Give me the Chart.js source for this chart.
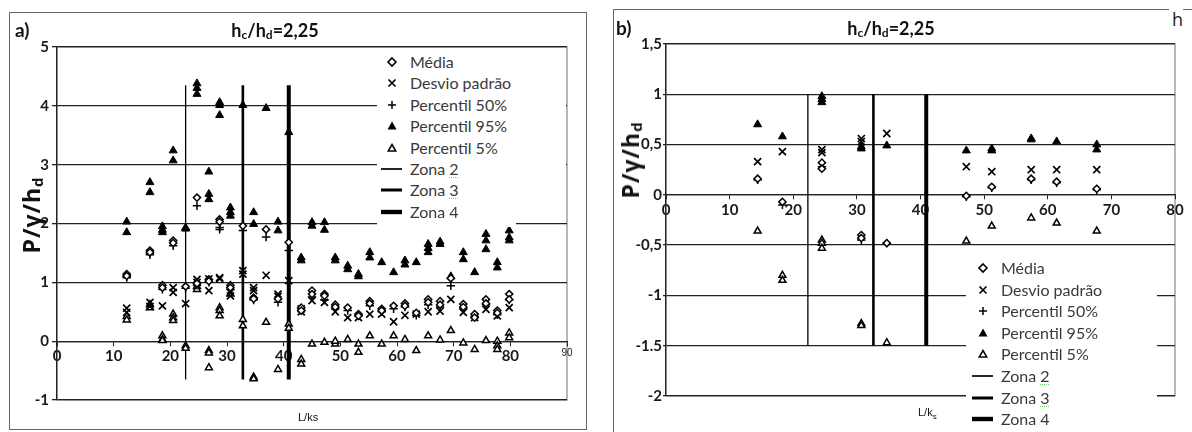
<!DOCTYPE html>
<html>
<head>
<meta charset="utf-8">
<script src="https://cdn.jsdelivr.net/npm/chart.js@4.4.1/dist/chart.umd.min.js"></script>
<style>
  body { margin: 0; background: #fff; width: 1192px; height: 432px; overflow: hidden; position: relative; font-family: Lato, "Open Sans", sans-serif; }
  .abs { position: absolute; }
  .frame { position: absolute; border: 1px solid #666; box-sizing: border-box; }
  .title { position: absolute; font-weight: bold; font-size: 18px; color: #111; transform: translate(-50%, -50%); white-space: nowrap; }
  .title sub { font-size: 12px; vertical-align: -2px; }
  .tag { position: absolute; font-weight: bold; font-size: 19px; color: #111; }
  .ytitle { position: absolute; font-family: "Open Sans", sans-serif; font-weight: bold; font-size: 23px; color: #111;
            transform: translate(-50%, -50%) rotate(-90deg); white-space: nowrap; letter-spacing: 1px; }
  .ytitle sub { font-size: 15px; vertical-align: -3px; }
  .xtitle { position: absolute; font-family: "Liberation Sans", Arial, sans-serif; font-size: 11px; color: #111; }
  .legbox { position: absolute; background: #fff; }
  .row { position: absolute; height: 20px; line-height: 20px; font-size: 16px; color: #3a3a3a; white-space: nowrap; }
  .sym { position: absolute; width: 22px; height: 20px; }
  .sym svg { position: absolute; left: 0; top: 3px; }
  .wavy { text-decoration: underline dotted #7c7; text-decoration-thickness: 1px; text-underline-offset: 2px; }
  canvas { position: absolute; top: 0; }
</style>
</head>
<body>
<div class="frame" style="left:9px;top:12px;width:578px;height:418px"></div>
<div class="frame" style="left:613px;top:9px;width:556px;height:430px;border-right:none;border-bottom:none"></div>
<div class="abs" style="left:1183px;top:9px;width:9px;height:1px;background:#666"></div>
<div class="abs" style="left:1172px;top:7px;font-family:'Open Sans',sans-serif;font-size:18px;color:#222">h</div>

<canvas id="chartA" width="590" height="432" style="left:0"></canvas>
<canvas id="chartB" width="592" height="432" style="left:600px"></canvas>

<div class="tag" style="left:15px;top:18px">a)</div>
<div class="tag" style="left:616px;top:16px">b)</div>
<div class="title" style="left:275px;top:30px">h<sub>c</sub>/h<sub>d</sub>=2,25</div>
<div class="title" style="left:891px;top:28px">h<sub>c</sub>/h<sub>d</sub>=2,25</div>
<div class="ytitle" style="left:31px;top:215px">P/γ/h<sub>d</sub></div>
<div class="ytitle" style="left:630px;top:160px">P/γ/h<sub>d</sub></div>
<div class="xtitle" style="left:298px;top:411px">L/ks</div>
<div class="xtitle" style="left:918px;top:406px">L/k<sub style="font-size:8px">s</sub></div>

<div class="legbox" style="left:377px;top:49px;width:139px;height:178px"></div>
<div class="legbox" style="left:516px;top:49px;width:50px;height:170px"></div>
<div class="legbox" style="left:966px;top:255px;width:191px;height:177px"></div>
<div id="legA"></div>
<div id="legB"></div>

<script>
// panel a) L/ks positions and values (several runs per position)
const xA = [12.3, 16.4, 18.6, 20.5, 22.7, 24.7, 26.8, 28.7, 30.6, 32.8, 34.7, 36.9, 39.0, 40.9, 43.1, 45.0, 47.2,
            49.1, 51.3, 53.2, 55.2, 57.3, 59.4, 61.4, 63.4, 65.5, 67.6, 69.5, 71.7, 73.7, 75.7, 77.7, 79.8];
const mediaA = [[1.14, 1.11], [1.54, 1.51], [0.95, 0.91], [1.71, 1.67], [0.93], [2.44, 0.98], [1.05, 1.02], [2.07, 2.03],
                [0.95, 0.91], [1.96], [0.74, 0.72], [1.90], [0.72], [1.68], [0.57, 0.52], [0.86, 0.80], [0.80, 0.77],
                [0.62, 0.58], [0.57], [0.46, 0.43], [0.68, 0.64], [0.55, 0.52], [0.60], [0.64, 0.60], [0.48],
                [0.71, 0.66], [0.68, 0.62], [1.07], [0.63, 0.58], [0.46, 0.40], [0.71, 0.64], [0.52, 0.48], [0.80, 0.71]];
const desvioA = [[0.56, 0.49], [0.66, 0.59], [0.60], [0.91, 0.83], [0.64], [1.05, 1.00], [1.06, 0.86], [1.08, 1.06],
                 [0.83, 0.77], [1.20, 1.14], [0.91, 0.86], [1.12], [0.80, 0.76], [1.03], [0.55, 0.50], [0.69], [0.66],
                 [0.50], [0.40], [0.40], [0.46], [0.46], [0.33], [0.44], [0.46], [0.50], [0.51], [0.71], [0.49],
                 [0.40], [0.54], [0.43], [0.57]];
const p50A = [[1.10, 1.08], [1.50, 1.47], [0.88], [1.62], [0.90], [2.30, 0.95], [1.00], [1.93, 1.90], [0.88], [1.88],
              [0.70], [1.77], [0.66], [1.54], [0.52], [0.75], [0.70], [0.55], [0.52], [0.43], [0.60], [0.50], [0.55],
              [0.58], [0.44], [0.62], [0.58], [0.94], [0.55], [0.42], [0.62], [0.45], [0.70]];
const p95A = [[2.03, 1.85], [2.70, 2.53], [1.95, 1.89, 1.85], [3.24, 3.07], [1.93, 1.91], [4.38, 4.30, 4.20],
              [2.88, 2.50, 2.41], [4.06, 4.01, 3.84], [2.27, 2.19, 2.13], [4.01], [2.19, 1.99], [3.96], [2.03, 1.88],
              [3.55], [1.42, 1.37], [2.02, 1.96], [2.02, 1.89], [1.42, 1.37], [1.28, 1.22], [1.14, 1.10], [1.51, 1.42],
              [1.34], [1.17], [1.37, 1.30], [1.34], [1.65, 1.58, 1.51], [1.69, 1.65], [1.10], [1.51, 1.39], [1.17],
              [1.82, 1.71, 1.56], [1.34, 1.25], [1.88, 1.76, 1.71]];
const p5A = [[0.42, 0.36], [0.62, 0.57], [0.09, 0.03, 0.01], [0.46, 0.40, 0.35], [-0.08, -0.12], [0.93, 0.88],
             [-0.16, -0.20, -0.45], [0.57, 0.52, 0.43], [0.80], [0.37, 0.26], [-0.61, -0.64], [0.32], [-0.48],
             [0.29, 0.22], [-0.31, -0.39], [-0.05], [-0.02], [-0.05, 0.0], [0.03], [-0.05, -0.19], [0.09], [-0.05],
             [0.09], [0.03], [-0.16], [0.09], [0.02], [0.18], [-0.03], [-0.14], [0.01], [0.0, -0.08, -0.14], [0.14, 0.06]];
const zoneXA = [22.7, 32.8, 40.9];
const zoneSpanA = [-0.65, 4.35];

// panel b)
const xB = [14.4, 18.3, 24.5, 30.7, 34.7, 47.2, 51.2, 57.4, 61.4, 67.7];
const mediaB = [[0.16], [-0.07], [0.32, 0.26], [-0.40, -0.43], [-0.48], [-0.01], [0.08], [0.16], [0.13], [0.06]];
const desvioB = [[0.33], [0.43], [0.45, 0.42], [0.56, 0.53], [0.61], [0.28], [0.23], [0.25], [0.25], [0.25]];
const p50B = [[0.15], [-0.10], [0.28], [-0.45], [-0.48], [-0.02], [0.07], [0.15], [0.12], [0.05]];
const p95B = [[0.70], [0.58], [0.98, 0.95, 0.92], [0.48, 0.46], [0.49], [0.44], [0.46, 0.44], [0.56, 0.55], [0.53], [0.50, 0.45]];
const p5B = [[-0.36], [-0.80, -0.85], [-0.45, -0.48, -0.53], [-1.28, -1.30], [-1.47], [-0.46], [-0.31], [-0.23], [-0.28], [-0.36]];
const zoneXB = [22.3, 32.6, 40.9];
const zoneSpanB = [-1.5, 1];
const yTicksB = ['-2', '-1.5', '-1', '-0,5', '0', '0,5', '1', '1,5'];

const seriesNames = ['Média', 'Desvio padrão', 'Percentil 50%', 'Percentil 95%', 'Percentil 5%'];
const zoneNames = ['Zona 2', 'Zona 3', 'Zona 4'];
const zoneWidths = [1.3, 2.6, 4];

function pts(xs, vals) {
  const out = [];
  xs.forEach((x, i) => vals[i].forEach(v => out.push({ x: x, y: v })));
  return out;
}

function markerSets(xs, med, dp, p50, p95, p5) {
  const base = { showLine: false, pointBorderColor: '#000', pointHoverRadius: 0 };
  return [
    Object.assign({ label: seriesNames[0], data: pts(xs, med), pointStyle: 'rectRot', pointRadius: 3.6, pointBackgroundColor: '#fff', pointBorderWidth: 1.5 }, base),
    Object.assign({ label: seriesNames[1], data: pts(xs, dp), pointStyle: 'crossRot', pointRadius: 5, pointBorderWidth: 1.7 }, base),
    Object.assign({ label: seriesNames[2], data: pts(xs, p50), pointStyle: 'cross', pointRadius: 4.2, pointBorderWidth: 1.5 }, base),
    Object.assign({ label: seriesNames[3], data: pts(xs, p95), pointStyle: 'triangle', pointRadius: 4.6, pointBackgroundColor: '#000', pointBorderWidth: 1 }, base),
    Object.assign({ label: seriesNames[4], data: pts(xs, p5), pointStyle: 'triangle', pointRadius: 4, pointBackgroundColor: '#fff', pointBorderWidth: 1.5 }, base)
  ];
}

function zoneSets(xs, span) {
  return xs.map((x, i) => ({
    label: zoneNames[i],
    data: [{ x: x, y: span[0] }, { x: x, y: span[1] }],
    showLine: true, pointRadius: 0, borderColor: '#000', borderWidth: zoneWidths[i]
  }));
}

const plotBox = {
  id: 'plotBox',
  beforeDraw(chart) {
    const { ctx, chartArea: a } = chart;
    ctx.save();
    ctx.strokeStyle = '#888';
    ctx.lineWidth = 1.2;
    ctx.strokeRect(a.left, a.top, a.right - a.left, a.bottom - a.top);
    ctx.restore();
  }
};

const tickFont = { family: 'Lato', size: 15, weight: 'bold' };

function makeChart(id, datasets, opt) {
  return new Chart(document.getElementById(id), {
    type: 'scatter',
    data: { datasets: datasets },
    options: {
      responsive: false,
      animation: false,
      devicePixelRatio: 1,
      layout: { padding: opt.padding },
      plugins: { legend: { display: false }, tooltip: { enabled: false } },
      scales: {
        x: {
          type: 'linear', position: { y: 0 }, min: 0, max: opt.xMax,
          grid: { drawOnChartArea: false, drawTicks: true, tickLength: 4, color: '#222' },
          border: { display: true, color: '#222', width: 1.3 },
          ticks: {
            stepSize: 10, padding: 2, color: '#1a1a1a', maxRotation: 0,
            font: (c) => (c.tick && c.tick.value === 90) ? { family: 'Liberation Sans', size: 10, weight: 'normal' } : tickFont
          }
        },
        y: {
          type: 'linear', min: opt.yMin, max: opt.yMax,
          afterFit: (s) => { s.width = opt.yWidth; },
          grid: { color: '#222', lineWidth: 1.3, drawTicks: true, tickLength: opt.yTick, tickColor: '#222' },
          border: { display: true, color: '#222', width: 1.3 },
          ticks: { stepSize: opt.yStep, padding: opt.yPad, color: '#1a1a1a', font: tickFont, callback: opt.yLabel }
        }
      }
    },
    plugins: [plotBox]
  });
}

makeChart('chartA',
  markerSets(xA, mediaA, desvioA, p50A, p95A, p5A).concat(zoneSets(zoneXA, zoneSpanA)),
  { padding: { left: 17, top: 47, right: 23, bottom: 32 }, xMax: 90, yMin: -1, yMax: 5, yStep: 1,
    yWidth: 40, yTick: 5, yPad: 3, yLabel: (v) => v });

makeChart('chartB',
  markerSets(xB, mediaB, desvioB, p50B, p95B, p5B).concat(zoneSets(zoneXB, zoneSpanB)),
  { padding: { left: 21, top: 44, right: 17, bottom: 36 }, xMax: 80, yMin: -2, yMax: 1.5, yStep: 0.5,
    yWidth: 45, yTick: 3, yPad: 1, yLabel: (v, i) => yTicksB[i] });

// legends
const symbols = [
  '<svg width="22" height="14"><polygon points="11,3 15,7 11,11 7,7" fill="#fff" stroke="#000" stroke-width="1.6"/></svg>',
  '<svg width="22" height="14"><path d="M7.5 3.5 L14.5 10.5 M14.5 3.5 L7.5 10.5" stroke="#000" stroke-width="1.7"/></svg>',
  '<svg width="22" height="14"><path d="M11 3 V11 M7 7 H15" stroke="#000" stroke-width="1.5"/></svg>',
  '<svg width="22" height="14"><polygon points="11,2.5 15.5,10.5 6.5,10.5" fill="#000"/></svg>',
  '<svg width="22" height="14"><polygon points="11,3.5 14.8,10 7.2,10" fill="#fff" stroke="#000" stroke-width="1.5"/></svg>'
];
function lineSym(w) {
  return '<svg width="22" height="14"><line x1="0" y1="7" x2="21" y2="7" stroke="#000" stroke-width="' + w + '"/></svg>';
}
function buildLegend(el, symLeft, textLeft, top0, step) {
  let html = '';
  const names = seriesNames.concat(zoneNames);
  names.forEach((n, i) => {
    const y = top0 + i * step - 10;
    const sym = i < 5 ? symbols[i] : lineSym(zoneWidths[i - 5] + 0.4);
    let label = n;
    if (i === 5) label = 'Zona <span class="wavy">2</span>';
    if (i === 6) label = 'Zona <span class="wavy">3</span>';
    html += '<div class="sym" style="left:' + symLeft + 'px;top:' + y + 'px">' + sym + '</div>';
    html += '<div class="row" style="left:' + textLeft + 'px;top:' + y + 'px">' + label + '</div>';
  });
  document.getElementById(el).innerHTML = html;
}
buildLegend('legA', 381, 410, 62, 21.4);
buildLegend('legB', 972, 1001, 268, 21.6);
</script>
</body>
</html>
